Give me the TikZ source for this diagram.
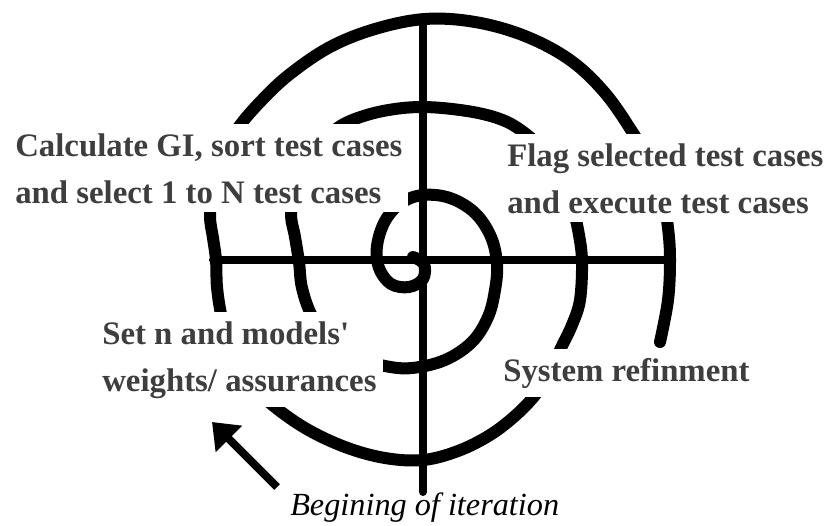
\documentclass[tikz,border=0pt]{standalone}
\usepackage{fontspec}
\setmainfont{Liberation Serif}[Ligatures=TeXOff]
\usetikzlibrary{arrows.meta}
\definecolor{txtgray}{RGB}{62,62,62}
\begin{document}
\begin{tikzpicture}[x=0.75pt,y=-0.75pt,
  spiral/.style={line width=9pt, line cap=round, line join=round},
  axisline/.style={line width=6pt, line cap=round},
  steplabel/.style={fill=white, text=txtgray, align=left, anchor=north west,
    inner xsep=4.5pt, inner ysep=6.75pt, font=\fontsize{24.6}{35.25}\selectfont\bfseries},
  startlabel/.style={anchor=base west, inner sep=0pt, font=\fontsize{24.2}{30}\selectfont\itshape},
  startarrow/.style={line width=6pt, -{Triangle[length=18pt,width=27pt]}}]
\useasboundingbox (0,0) rectangle (827,525);
% axes
\coordinate (vtop) at (423,21);
\coordinate (vbot) at (423,492);
\coordinate (hleft) at (213,260);
\coordinate (hright) at (666,260);
\draw[axisline] (vtop) -- (vbot);
\draw[axisline] (hleft) -- (hright);
% spiral
\draw[spiral] plot[smooth, tension=0.6] coordinates {
 (413,257) (424,264) (423,279) (409,287) (391,284) (379,268) (377,246)
 (385,221) (401,203) (423,195) (450,198) (475,213) (491,237) (497,264)
 (495,290) (488,317) (472,342) (445,360) (412,368) (385,366)
 (355,357) (330,340) (312,316) (302,288) (299,262) (295,237) (291,213)
 (296,183) (310,155) (330,134) (350,121) (383,111) (422,107) (467,111)
 (500,119) (522,131) (543,150) (560,175) (572,205) (579,235) (582,262)
 (580,300) (572,325) (561,348) (550,372) (536,394) (516,415) (490,435)
 (458,451) (423,460) (385,458) (345,447) (305,428) (270,403) (245,378)
 (229,348) (221,314) (217,287) (216,260) (213,238) (210,216) (213,188)
 (222,157) (238,128) (262,100) (290,74) (330,47) (375,29) (425,19)
 (475,22) (525,36) (570,60) (605,93) (633,133) (650,162) (662,193)
 (668,228) (670,260) (668,300) (660,342)};
% labels
\node[steplabel] (calc) at (9,124) {Calculate GI, sort test cases\\and select 1 to N test cases};
\node[steplabel] (flag) at (501,134) {Flag selected test cases\\and execute test cases};
\node[steplabel] (setn) at (96,312) {Set n and models'\\weights/ assurances};
\node[steplabel] (sysref) at (497,349) {System refinment};
\node[startlabel] (begin) at (290,515) {Begining of iteration};
% start arrow
\coordinate (atail) at (277,487);
\coordinate (ahead) at (212,422);
\draw[startarrow] (atail) -- (ahead);
\end{tikzpicture}
\end{document}
